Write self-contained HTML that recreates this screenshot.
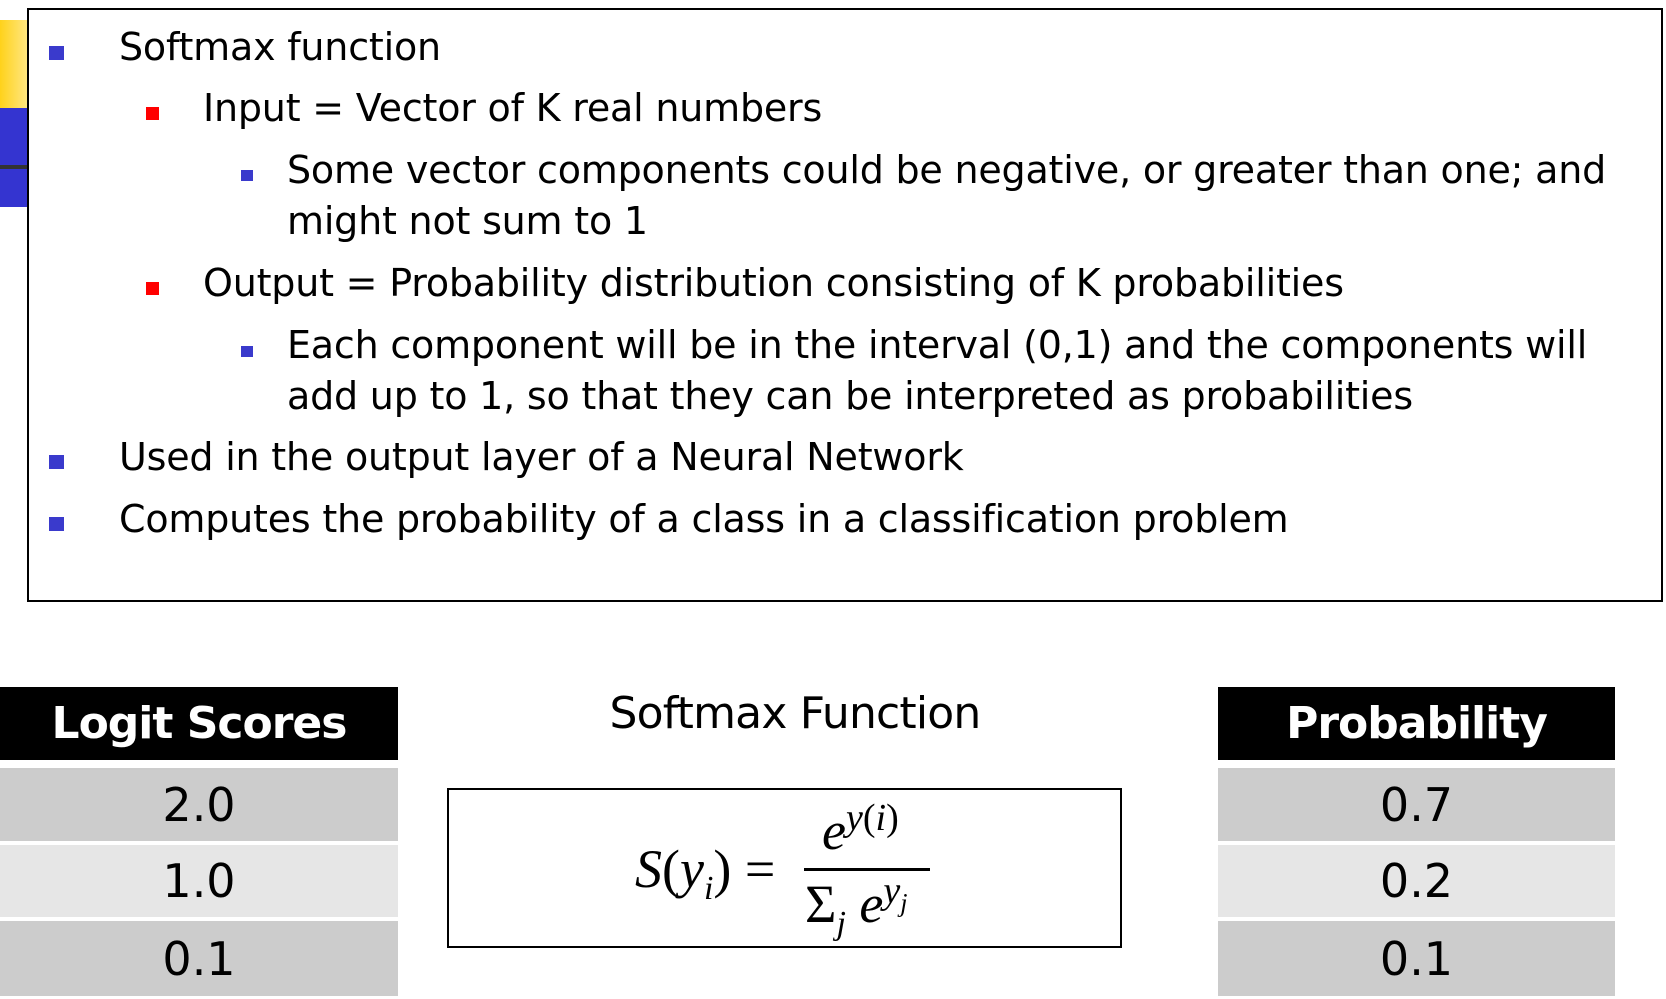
<!DOCTYPE html>
<html><head><meta charset="utf-8"><style>
body{margin:0;width:1666px;height:999px;background:#fff;position:relative;overflow:hidden;font-family:"DejaVu Sans","Liberation Sans",sans-serif;}
.a{position:absolute;white-space:nowrap;}
.t{font-size:38px;color:#000;line-height:44px;letter-spacing:-0.2px;}
.b{position:absolute;}
.cell{position:absolute;display:flex;align-items:center;justify-content:center;font-size:46px;color:#000;font-family:"DejaVu Sans","Liberation Sans",sans-serif;}
.m{font-family:"Liberation Serif","DejaVu Serif",serif;font-style:italic;position:absolute;white-space:nowrap;color:#000;}
</style></head><body>
<div class="b" style="left:0;top:20px;width:27px;height:88px;background:linear-gradient(90deg,#ffd21a,#ffe680);"></div>
<div class="b" style="left:0;top:108px;width:27px;height:99px;background:#3434d0;"></div>
<div class="b" style="left:0;top:165px;width:27px;height:4px;background:#333;"></div>
<div class="b" style="left:27px;top:8px;width:1632px;height:590px;border:2px solid #000;"></div>

<div class="b" style="left:49px;top:46px;width:15px;height:14px;background:#3a3acc;"></div>
<div class="a t" style="left:119px;top:25px;">Softmax function</div>
<div class="b" style="left:146px;top:107px;width:13px;height:13px;background:#f00;"></div>
<div class="a t" style="left:203px;top:86px;">Input = Vector of K real numbers</div>
<div class="b" style="left:241px;top:170px;width:12px;height:11px;background:#3a3acc;"></div>
<div class="a t" style="left:287px;top:148px;">Some vector components could be negative, or greater than one; and</div>
<div class="a t" style="left:287px;top:199px;">might not sum to 1</div>
<div class="b" style="left:146px;top:282px;width:13px;height:13px;background:#f00;"></div>
<div class="a t" style="left:203px;top:261px;">Output = Probability distribution consisting of K probabilities</div>
<div class="b" style="left:241px;top:346px;width:12px;height:11px;background:#3a3acc;"></div>
<div class="a t" style="left:287px;top:323px;">Each component will be in the interval (0,1) and the components will</div>
<div class="a t" style="left:287px;top:374px;">add up to 1, so that they can be interpreted as probabilities</div>
<div class="b" style="left:49px;top:455px;width:15px;height:14px;background:#3a3acc;"></div>
<div class="a t" style="left:119px;top:435px;">Used in the output layer of a Neural Network</div>
<div class="b" style="left:49px;top:517px;width:15px;height:14px;background:#3a3acc;"></div>
<div class="a t" style="left:119px;top:497px;">Computes the probability of a class in a classification problem</div>

<div class="cell" style="left:0;top:687px;width:398px;height:73px;background:#000;color:#fff;font-weight:bold;font-size:44px;letter-spacing:-1px;">Logit Scores</div>
<div class="cell" style="left:0;top:768px;width:398px;height:73px;background:#cccccc;">2.0</div>
<div class="cell" style="left:0;top:845px;width:398px;height:72px;background:#e6e6e6;">1.0</div>
<div class="cell" style="left:0;top:921px;width:398px;height:75px;background:#cccccc;">0.1</div>

<div class="cell" style="left:1218px;top:687px;width:397px;height:73px;background:#000;color:#fff;font-weight:bold;font-size:44px;letter-spacing:-1px;">Probability</div>
<div class="cell" style="left:1218px;top:768px;width:397px;height:73px;background:#cccccc;">0.7</div>
<div class="cell" style="left:1218px;top:845px;width:397px;height:72px;background:#e6e6e6;">0.2</div>
<div class="cell" style="left:1218px;top:921px;width:397px;height:75px;background:#cccccc;">0.1</div>

<div class="a" style="left:595px;top:688px;width:400px;text-align:center;font-size:44px;letter-spacing:-0.8px;">Softmax Function</div>
<div class="b" style="left:447px;top:788px;width:671px;height:156px;border:2px solid #000;"></div>
<div class="m" style="left:635px;top:838px;font-size:54px;">S<span style="font-style:normal">(</span>y<sub style="font-size:34px">i</sub><span style="font-style:normal">) =</span></div>
<div class="m" style="left:822px;top:796px;font-size:54px;">e<sup style="font-size:38px">y<span style="font-style:normal">(</span>i<span style="font-style:normal">)</span></sup></div>
<div class="b" style="left:804px;top:868px;width:126px;height:3px;background:#000;"></div>
<div class="m" style="left:805px;top:869px;font-size:54px;"><span style="font-style:normal">Σ</span><sub style="font-size:34px">j</sub> e<sup style="font-size:38px">y<sub style="font-size:26px">j</sub></sup></div>
</body></html>
